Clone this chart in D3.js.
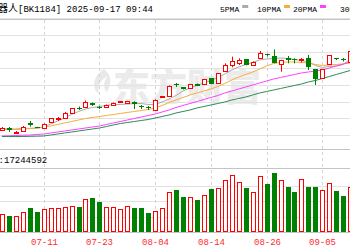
<!DOCTYPE html>
<html>
<head>
<meta charset="utf-8">
<script src="https://cdn.jsdelivr.net/npm/d3@7"></script>
<style>
html, body { margin: 0; padding: 0; background: #fff; overflow: hidden; }
svg { display: block; }
</style>
</head>
<body>
<svg id="chart" width="350" height="250"></svg>
<script>
// trading days shown in the crop
const dates = ["07-03","07-04","07-07","07-08","07-09","07-10","07-11","07-14","07-15","07-16",
  "07-17","07-18","07-21","07-22","07-23","07-24","07-25","07-28","07-29","07-30",
  "07-31","08-01","08-04","08-05","08-06","08-07","08-08","08-11","08-12","08-13",
  "08-14","08-15","08-18","08-19","08-20","08-21","08-22","08-25","08-26","08-27",
  "08-28","08-29","09-01","09-02","09-03","09-04","09-05","09-08","09-09","09-10","09-11"];

const open  = [1430,1439,1414,1424,1469,1448,1444,1474,1493,1506,1530,1563,1568,1589,1568,1568,1580,1596,1592,1600,
  1574,1568,1550,1625,1636,1703,1685,1680,1706,1704,1739,1710,1786,1820,1830,1854,1820,1860,1883,1874,
  1826,1859,1853,1847,1859,1793,1740,1824,1859,1856,1840];
const high  = [1448,1448,1424,1454,1484,1449,1469,1502,1508,1538,1562,1571,1607,1595,1575,1583,1595,1604,1605,1602,
  1580,1574,1613,1634,1697,1712,1688,1706,1709,1737,1742,1772,1830,1870,1860,1856,1842,1904,1889,1913,
  1851,1874,1860,1862,1880,1796,1796,1880,1862,1862,1910];
const low   = [1424,1418,1409,1421,1450,1442,1442,1472,1484,1505,1529,1550,1565,1574,1556,1565,1577,1593,1589,1556,
  1556,1550,1547,1623,1634,1688,1673,1679,1694,1703,1704,1709,1780,1806,1820,1818,1818,1859,1871,1830,
  1780,1830,1830,1835,1790,1700,1736,1823,1850,1841,1838];
const close = [1442,1427,1420,1450,1460,1443,1466,1500,1499,1534,1560,1557,1598,1580,1563,1580,1592,1601,1601,1586,
  1568,1562,1610,1631,1694,1697,1676,1704,1697,1734,1706,1770,1820,1846,1850,1820,1840,1890,1877,1835,
  1850,1850,1847,1853,1805,1733,1794,1878,1852,1850,1904];
// volume, 10k shares
const volume = [1174,1063,1063,1285,1546,1285,1500,1546,1546,1611,1716,1611,2133,2198,1937,1650,1611,1500,1676,1546,
  1546,1259,1350,1566,2590,2740,2264,2303,2087,2414,2805,2850,3392,3718,3242,2850,2590,3673,3131,3849,
  3392,2916,2609,3457,2916,2916,2740,3177,2674,2329,2916];

const ma5  = [1439,1436,1436,1439,1440,1440,1448,1466,1484,1502,1523,1541,1556,1565,1571,1577,1583,1583,1586,1589,
  1589,1583,1583,1598,1616,1637,1664,1682,1697,1712,1727,1745,1766,1790,1808,1823,1835,1850,1856,1859,
  1862,1859,1853,1847,1838,1817,1805,1811,1814,1823,1856];
const ma10 = [1433,1433,1433,1436,1439,1442,1448,1454,1463,1472,1481,1490,1499,1505,1511,1517,1523,1529,1535,1541,
  1547,1553,1562,1577,1595,1610,1625,1640,1652,1664,1676,1691,1709,1730,1748,1763,1778,1796,1814,1829,
  1835,1838,1838,1835,1832,1823,1817,1820,1823,1826,1832];
const ma20 = [1394,1395,1397,1399,1400,1403,1406,1412,1418,1424,1430,1436,1442,1448,1454,1463,1472,1481,1490,1499,
  1508,1517,1526,1538,1550,1565,1577,1589,1601,1613,1625,1637,1652,1664,1676,1688,1700,1712,1724,1736,
  1745,1754,1763,1772,1778,1784,1790,1802,1814,1826,1838];
const ma30 = [1391,1391,1391,1391,1392,1393,1394,1400,1406,1412,1418,1424,1430,1436,1442,1451,1460,1469,1475,1481,
  1487,1493,1502,1511,1520,1532,1541,1550,1562,1571,1580,1589,1598,1610,1619,1628,1640,1652,1661,1670,
  1679,1688,1697,1706,1718,1727,1739,1751,1763,1775,1787];

const tickDates = ["07-11","07-23","08-04","08-14","08-26","09-05"];
const priceTicks = [1400,1500,1600,1700,1800,1900,2000,2100];
const volTicks = [1000,2000,3000];
const maNames = ["5PMA","10PMA","20PMA","30PMA"];
const maColors = ["#aaaaaa","#f6ad3c","#ff40ff","#2e8b57"];

const UP = "#ff0000", DOWN = "#008000";
const mono = "'Liberation Mono', 'DejaVu Sans Mono', monospace";
const cjk = "'Noto Sans CJK SC', sans-serif";

const svg = d3.select("#chart");
svg.append("rect").attr("width", 350).attr("height", 250).attr("fill", "#fff");

const x = d3.scalePoint().domain(dates).range([1.9, 350.2]);
const y = d3.scaleLinear().domain([1400, 2100]).range([135, 18.33]);
const yv = d3.scaleLinear().domain([0, 4000]).range([232, 170.67]);
const px = d => Math.round(x(d));
const crisp = v => Math.round(v) + 0.5;

// watermark (logo + name)
svg.append("path")
  .attr("d", "M104,69 C93,76 91,88 99,94 C97,86 100,80 108,76 C103,82 103,88 107,92 C111,84 113,76 104,69 Z")
  .attr("fill", "#e9e9e9");
svg.append("text")
  .attr("x", 113).attr("y", 101)
  .attr("font-family", cjk).attr("font-size", 37).attr("font-weight", 900)
  .attr("fill", "#ebebeb")
  .text("东方财富");

// horizontal grid
svg.append("g").selectAll("line")
  .data(priceTicks)
  .enter().append("line")
  .attr("x1", 0).attr("x2", 350)
  .attr("y1", d => crisp(y(d))).attr("y2", d => crisp(y(d)))
  .attr("stroke", "#e2e2e2");

svg.append("g").selectAll("line")
  .data(volTicks)
  .enter().append("line")
  .attr("x1", 0).attr("x2", 350)
  .attr("y1", d => crisp(yv(d))).attr("y2", d => crisp(yv(d)))
  .attr("stroke", "#e2e2e2");

// panel borders
svg.append("g").selectAll("line")
  .data([19, 149, 168, 232])
  .enter().append("line")
  .attr("x1", 0).attr("x2", 350)
  .attr("y1", d => d + 0.5).attr("y2", d => d + 0.5)
  .attr("stroke", "#c4c4c4");

// vertical dashed grid
svg.append("g").selectAll("line")
  .data(tickDates)
  .enter().append("line")
  .attr("x1", d => px(d) + 0.5).attr("x2", d => px(d) + 0.5)
  .attr("y1", 20).attr("y2", 232)
  .attr("stroke", "#d4d4d4")
  .attr("stroke-dasharray", "3,3");

// moving averages
[ma5, ma10, ma20, ma30].forEach((ma, k) => {
  const line = d3.line()
    .x((d, i) => x(dates[i]))
    .y(d => y(d));
  svg.append("path")
    .attr("d", line(ma))
    .attr("fill", "none")
    .attr("stroke", maColors[k])
    .attr("stroke-width", 1);
});

const candles = dates.map((d, i) => ({
  d, o: open[i], h: high[i], l: low[i], c: close[i], v: volume[i], up: close[i] >= open[i]
}));

// wicks
svg.append("g").selectAll("line")
  .data(candles)
  .enter().append("line")
  .attr("x1", d => px(d.d) + 0.5).attr("x2", d => px(d.d) + 0.5)
  .attr("y1", d => y(d.h)).attr("y2", d => y(d.l))
  .attr("stroke", d => d.up ? UP : DOWN);

// bodies
svg.append("g").selectAll("rect")
  .data(candles)
  .enter().append("rect")
  .attr("x", d => d.up ? px(d.d) - 1.5 : px(d.d) - 2)
  .attr("width", d => d.up ? 4 : 5)
  .attr("y", d => {
    const t = Math.min(y(d.o), y(d.c));
    return d.up ? crisp(t) : Math.round(t);
  })
  .attr("height", d => Math.max(1, Math.round(Math.abs(y(d.o) - y(d.c)))))
  .attr("fill", d => d.up ? "#fff" : DOWN)
  .attr("stroke", d => d.up ? UP : "none");

// volume bars
svg.append("g").selectAll("rect")
  .data(candles)
  .enter().append("rect")
  .attr("x", d => d.up ? px(d.d) - 1.5 : px(d.d) - 2)
  .attr("width", d => d.up ? 4 : 5)
  .attr("y", d => d.up ? crisp(yv(d.v)) : Math.round(yv(d.v)))
  .attr("height", d => Math.round(yv(0) - yv(d.v)) - (d.up ? 1 : 0))
  .attr("fill", d => d.up ? "#fff" : DOWN)
  .attr("stroke", d => d.up ? UP : "none");

// date labels
svg.append("g").selectAll("text")
  .data(tickDates)
  .enter().append("text")
  .attr("x", d => px(d) + 0.5).attr("y", 245)
  .attr("text-anchor", "middle")
  .attr("font-family", mono).attr("font-size", 9)
  .attr("fill", "#ff2a2a")
  .text(d => d);

// header
svg.append("text")
  .attr("x", 18).attr("y", 12).attr("text-anchor", "end")
  .attr("font-family", cjk).attr("font-size", 10).attr("fill", "#000")
  .text("机器人");
svg.append("text")
  .attr("x", 18).attr("y", 12)
  .attr("font-family", mono).attr("font-size", 9).attr("fill", "#000")
  .text("[BK1184] 2025-09-17 09:44");

// legend
const legX = [220, 257, 293, 340];
const leg = svg.append("g").selectAll("g")
  .data(maNames)
  .enter().append("g")
  .attr("transform", (d, i) => `translate(${legX[i]},0)`);
leg.append("text")
  .attr("y", 11.5)
  .attr("font-family", mono).attr("font-size", 8).attr("fill", "#000")
  .text(d => d);
leg.append("rect")
  .attr("x", d => d.length * 4.8 + 3).attr("y", 5)
  .attr("width", 6).attr("height", 3)
  .attr("fill", (d, i) => maColors[i]);

// volume header
svg.append("text")
  .attr("x", 4).attr("y", 163).attr("text-anchor", "end")
  .attr("font-family", mono).attr("font-size", 9).attr("fill", "#000")
  .text("VOL:");
svg.append("text")
  .attr("x", 4).attr("y", 163)
  .attr("font-family", mono).attr("font-size", 9).attr("fill", "#000")
  .text("17244592");
</script>
</body>
</html>
